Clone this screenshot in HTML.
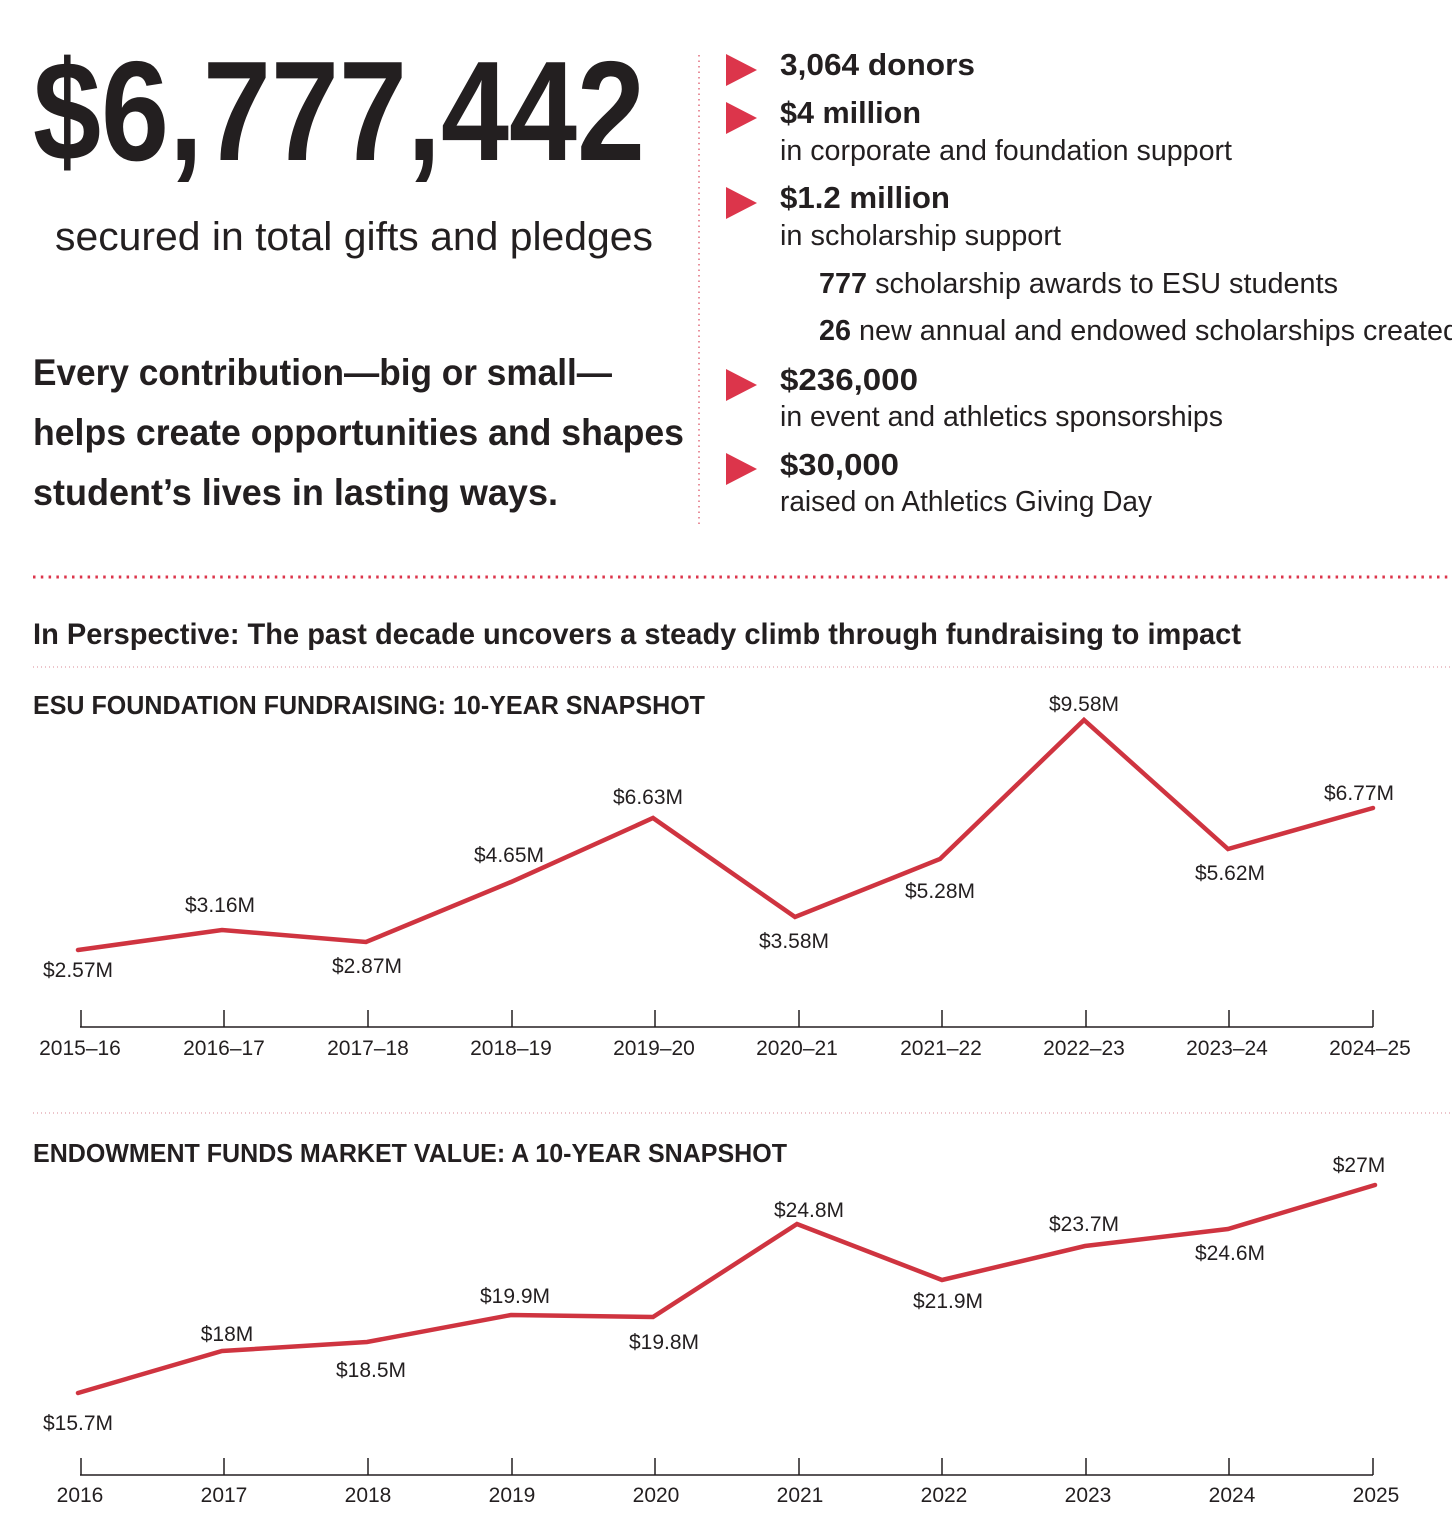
<!DOCTYPE html>
<html><head><meta charset="utf-8"><style>
html,body{margin:0;padding:0;background:#fff}
svg{display:block}
text{font-family:"Liberation Sans Narrow","Liberation Sans",sans-serif;fill:#231f20}
.b{font-weight:bold}
</style></head><body>
<svg width="1452" height="1538" viewBox="0 0 1452 1538" xmlns="http://www.w3.org/2000/svg">
<text x="33" y="160" class="b" font-size="142" textLength="612" lengthAdjust="spacingAndGlyphs">$6,777,442</text>
<text x="55" y="250" font-size="40" textLength="598" lengthAdjust="spacingAndGlyphs">secured in total gifts and pledges</text>
<line x1="699" y1="55" x2="699" y2="525" stroke="#d9475a" stroke-width="1.2" stroke-dasharray="1.5,4"/>
<text x="33" y="385" class="b" font-size="37" textLength="579" lengthAdjust="spacingAndGlyphs">Every contribution—big or small—</text>
<text x="33" y="445" class="b" font-size="37" textLength="651" lengthAdjust="spacingAndGlyphs">helps create opportunities and shapes</text>
<text x="33" y="505" class="b" font-size="37" textLength="525" lengthAdjust="spacingAndGlyphs">student’s lives in lasting ways.</text>
<g fill="#dc354b">
<polygon points="726,54 757,70 726,86"/>
<polygon points="726,102 757,118 726,134"/>
<polygon points="726,187 757,203 726,219"/>
<polygon points="726,369 757,385 726,401"/>
<polygon points="726,453 757,469 726,485"/>
</g>
<text x="780" y="75" class="b" font-size="31" textLength="195" lengthAdjust="spacingAndGlyphs">3,064  donors</text>
<text x="780" y="123" class="b" font-size="31" textLength="141" lengthAdjust="spacingAndGlyphs">$4 million</text>
<text x="780" y="160" font-size="29" textLength="452" lengthAdjust="spacingAndGlyphs">in corporate and foundation support</text>
<text x="780" y="208" class="b" font-size="31" textLength="170" lengthAdjust="spacingAndGlyphs">$1.2 million</text>
<text x="780" y="245" font-size="29" textLength="281" lengthAdjust="spacingAndGlyphs">in scholarship support</text>
<text x="819" y="293" font-size="29" textLength="519" lengthAdjust="spacingAndGlyphs"><tspan class="b">777</tspan> scholarship awards to ESU students</text>
<text x="819" y="340" font-size="29" textLength="640" lengthAdjust="spacingAndGlyphs"><tspan class="b">26</tspan> new annual and endowed scholarships created</text>
<text x="780" y="390" class="b" font-size="31" textLength="138" lengthAdjust="spacingAndGlyphs">$236,000</text>
<text x="780" y="426" font-size="29" textLength="443" lengthAdjust="spacingAndGlyphs">in event and athletics sponsorships</text>
<text x="780" y="475" class="b" font-size="31" textLength="119" lengthAdjust="spacingAndGlyphs">$30,000</text>
<text x="780" y="511" font-size="29" textLength="372" lengthAdjust="spacingAndGlyphs">raised on Athletics Giving Day</text>
<line x1="33" y1="577" x2="1452" y2="577" stroke="#dc354b" stroke-width="3" stroke-dasharray="2.5,5.3"/>
<text x="33" y="644" class="b" font-size="30" textLength="1208" lengthAdjust="spacingAndGlyphs">In Perspective: The past decade uncovers a steady climb through fundraising to impact</text>
<line x1="33" y1="667" x2="1452" y2="667" stroke="#d98a94" stroke-width="1" stroke-dasharray="1,3"/>
<text x="33" y="714" class="b" font-size="26" textLength="672" lengthAdjust="spacingAndGlyphs">ESU FOUNDATION FUNDRAISING: 10-YEAR SNAPSHOT</text>
<g stroke="#231f20" stroke-width="1.5">
<line x1="80" y1="1027" x2="1373" y2="1027"/>
<line x1="81" y1="1010" x2="81" y2="1027"/><line x1="224" y1="1010" x2="224" y2="1027"/><line x1="368" y1="1010" x2="368" y2="1027"/><line x1="512" y1="1010" x2="512" y2="1027"/><line x1="655" y1="1010" x2="655" y2="1027"/><line x1="799" y1="1010" x2="799" y2="1027"/><line x1="942" y1="1010" x2="942" y2="1027"/><line x1="1086" y1="1010" x2="1086" y2="1027"/><line x1="1229" y1="1010" x2="1229" y2="1027"/><line x1="1373" y1="1010" x2="1373" y2="1027"/>
</g>
<g font-size="21" text-anchor="middle">
<text x="80" y="1055">2015–16</text><text x="224" y="1055">2016–17</text><text x="368" y="1055">2017–18</text><text x="511" y="1055">2018–19</text><text x="654" y="1055">2019–20</text><text x="797" y="1055">2020–21</text><text x="941" y="1055">2021–22</text><text x="1084" y="1055">2022–23</text><text x="1227" y="1055">2023–24</text><text x="1370" y="1055">2024–25</text>
</g>
<polyline fill="none" stroke="#cf3440" stroke-width="4.5" stroke-linejoin="miter" stroke-linecap="round" points="78,950 222,930 366,942 511,882 653,818 795,917 940,859 1084,720 1228,849 1373,808"/>
<g font-size="21" text-anchor="middle">
<text x="78" y="977">$2.57M</text><text x="220" y="912">$3.16M</text><text x="367" y="973">$2.87M</text><text x="509" y="862">$4.65M</text><text x="648" y="804">$6.63M</text><text x="794" y="948">$3.58M</text><text x="940" y="898">$5.28M</text><text x="1084" y="711">$9.58M</text><text x="1230" y="880">$5.62M</text><text x="1359" y="800">$6.77M</text>
</g>
<line x1="33" y1="1113" x2="1452" y2="1113" stroke="#d98a94" stroke-width="1" stroke-dasharray="1,3"/>
<text x="33" y="1162" class="b" font-size="26" textLength="754" lengthAdjust="spacingAndGlyphs">ENDOWMENT FUNDS MARKET VALUE: A 10-YEAR SNAPSHOT</text>
<g stroke="#231f20" stroke-width="1.5">
<line x1="80" y1="1475" x2="1373" y2="1475"/>
<line x1="81" y1="1458" x2="81" y2="1475"/><line x1="224" y1="1458" x2="224" y2="1475"/><line x1="368" y1="1458" x2="368" y2="1475"/><line x1="512" y1="1458" x2="512" y2="1475"/><line x1="655" y1="1458" x2="655" y2="1475"/><line x1="799" y1="1458" x2="799" y2="1475"/><line x1="942" y1="1458" x2="942" y2="1475"/><line x1="1086" y1="1458" x2="1086" y2="1475"/><line x1="1229" y1="1458" x2="1229" y2="1475"/><line x1="1373" y1="1458" x2="1373" y2="1475"/>
</g>
<g font-size="21" text-anchor="middle">
<text x="80" y="1502">2016</text><text x="224" y="1502">2017</text><text x="368" y="1502">2018</text><text x="512" y="1502">2019</text><text x="656" y="1502">2020</text><text x="800" y="1502">2021</text><text x="944" y="1502">2022</text><text x="1088" y="1502">2023</text><text x="1232" y="1502">2024</text><text x="1376" y="1502">2025</text>
</g>
<polyline fill="none" stroke="#cf3440" stroke-width="4.5" stroke-linejoin="miter" stroke-linecap="round" points="78,1393 222,1351 367,1342 511,1315 653,1317 797,1224 942,1280 1085,1246 1228,1229 1375,1185"/>
<g font-size="21" text-anchor="middle">
<text x="78" y="1430">$15.7M</text><text x="227" y="1341">$18M</text><text x="371" y="1377">$18.5M</text><text x="515" y="1303">$19.9M</text><text x="664" y="1349">$19.8M</text><text x="809" y="1217">$24.8M</text><text x="948" y="1308">$21.9M</text><text x="1084" y="1231">$23.7M</text><text x="1230" y="1260">$24.6M</text><text x="1359" y="1172">$27M</text>
</g>
</svg>
</body></html>
